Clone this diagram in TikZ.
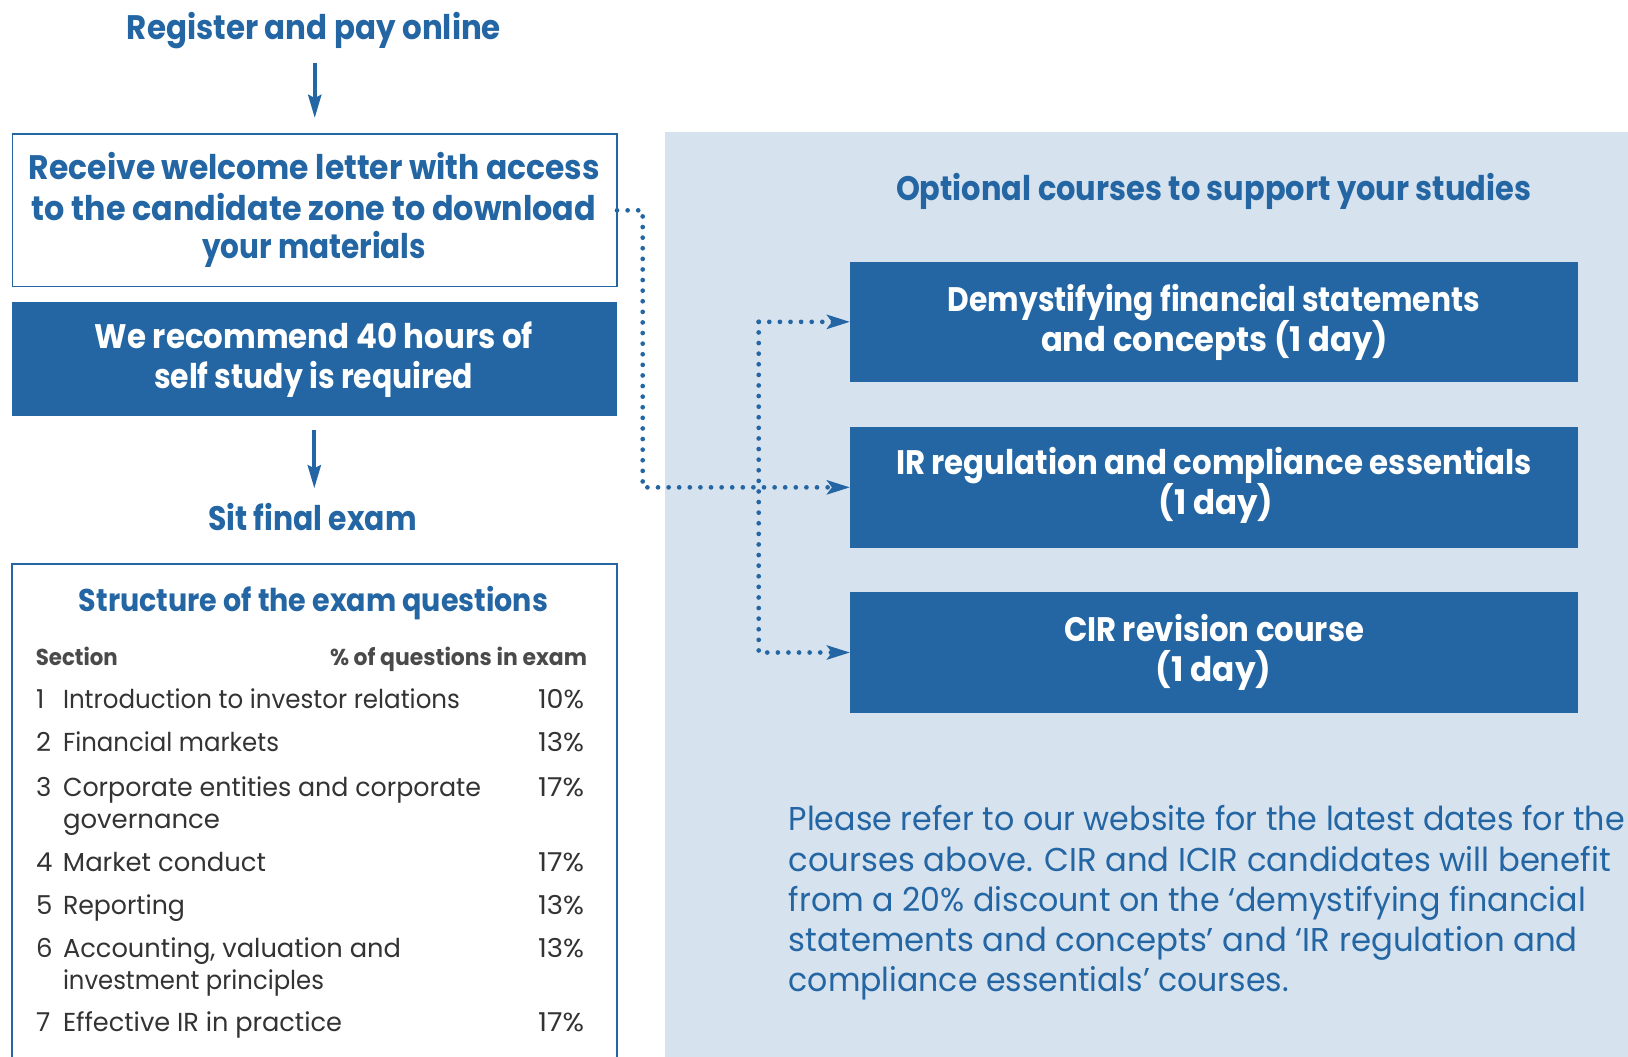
\documentclass[tikz,border=0pt]{standalone}
\usepackage{fontspec}
\setmainfont{Poppins}
\usepackage{graphicx}
\usetikzlibrary{arrows.meta}
\definecolor{cirblue}{HTML}{2366A3}
\definecolor{panelblue}{HTML}{D6E2EE}
\definecolor{rowgrey}{HTML}{333333}
\definecolor{headgrey}{HTML}{4A4A4A}
\newcommand\fl[2]{\resizebox{#1pt}{\height}{#2}}
\tikzset{
  txt/.style={inner sep=0pt, outer sep=0pt},
  ttl/.style={txt, anchor=base, text=cirblue, font=\bfseries\fontsize{34}{40}\selectfont},
  whitetxt/.style={txt, anchor=base, text=white, font=\bfseries\fontsize{34}{40}\selectfont},
  sttl/.style={txt, anchor=base, text=cirblue, font=\bfseries\fontsize{31.5}{36}\selectfont},
  head/.style={txt, text=headgrey, font=\bfseries\fontsize{23}{28}\selectfont},
  rowtxt/.style={txt, anchor=base west, text=rowgrey, font=\fontsize{26}{30}\selectfont},
  pct/.style={txt, anchor=base east, text=rowgrey, font=\fontsize{26}{30}\selectfont},
  para/.style={txt, anchor=base west, text=cirblue, font=\fontsize{33}{40}\selectfont},
  outlinebox/.style={draw=cirblue, line width=1.5pt, fill=white, inner sep=0pt, outer sep=0pt, anchor=north west},
  fillbox/.style={fill=cirblue, draw=none, inner sep=0pt, outer sep=0pt, anchor=north west},
  panelbox/.style={fill=panelblue, draw=none, inner sep=0pt, outer sep=0pt, anchor=north west},
  downarrow/.style={draw=cirblue, line width=4pt, -{Stealth[length=23pt,width=13pt,inset=3pt]}},
  dotline/.style={draw=cirblue, line width=4.7pt, line cap=round, dash pattern=on 0pt off 10.6pt},
  dotarrow/.style={dotline, -{Stealth[length=23pt,width=14pt,inset=5pt]}},
}
\begin{document}
\begin{tikzpicture}[x=1pt,y=-1pt]
\clip (0,0) rectangle (1628,1057);
\fill[white] (0,0) rectangle (1628,1057);

% right panel
\node[panelbox, minimum width=963.5pt, minimum height=930pt] (panel) at (664.5,132) {};

% left column
\node[ttl] (reg) at (314,39) {\fl{374}{Register and pay online}};

\node[outlinebox, minimum width=604.5pt, minimum height=152.7pt] (b1) at (12.5,134) {};
\node[ttl] (b1l1) at (314.5,179) {\fl{571}{Receive welcome letter with access}};
\node[ttl] (b1l2) at (314,220) {\fl{564}{to the candidate zone to download}};
\node[ttl] (b1l3) at (314,258) {\fl{224}{your materials}};

\node[fillbox, minimum width=605.4pt, minimum height=113.7pt] (b2) at (11.6,302) {};
\node[whitetxt] (b2l1) at (313.8,348) {\fl{438}{We recommend 40 hours of}};
\node[whitetxt] (b2l2) at (313.5,388) {\fl{319}{self study is required}};

\node[ttl] (sit) at (312.5,530) {\fl{208.4}{Sit final exam}};

\draw[downarrow] ([yshift=71.3pt]b1.north) -- ([yshift=16pt]b1.north);
\draw[downarrow] ([yshift=-14.3pt]b2.south) -- ([yshift=-72.6pt]b2.south);

% exam structure table
\node[outlinebox, minimum width=604.8pt, minimum height=600pt] (b3) at (12,564) {};
\node[sttl] (b3t) at (313.5,611) {\fl{469}{Structure of the exam questions}};
\node[head, anchor=base west] (hsec) at (35.8,665) {\fl{82}{Section}};
\node[head, anchor=base east] (hpct) at (587,665) {\fl{257}{\% of questions in exam}};

\node[rowtxt] (n1) at (36,708) {1};
\node[rowtxt] (r1) at (63,708) {\fl{397}{Introduction to investor relations}};
\node[pct] (p1) at (584,708) {\fl{46}{10\%}};

\node[rowtxt] (n2) at (36,751.7) {2};
\node[rowtxt] (r2) at (63,751.7) {\fl{216}{Financial markets}};
\node[pct] (p2) at (584,751.7) {\fl{46}{13\%}};

\node[rowtxt] (n3) at (36,796) {3};
\node[rowtxt] (r3) at (63,796) {\fl{418}{Corporate entities and corporate}};
\node[rowtxt] (r3b) at (63,828) {\fl{157}{governance}};
\node[pct] (p3) at (584,796) {\fl{46}{17\%}};

\node[rowtxt] (n4) at (36,871) {4};
\node[rowtxt] (r4) at (63,871) {\fl{203}{Market conduct}};
\node[pct] (p4) at (584,871) {\fl{46}{17\%}};

\node[rowtxt] (n5) at (36,914) {5};
\node[rowtxt] (r5) at (63,914) {\fl{122}{Reporting}};
\node[pct] (p5) at (584,914) {\fl{46}{13\%}};

\node[rowtxt] (n6) at (36,957) {6};
\node[rowtxt] (r6) at (63,957) {\fl{338}{Accounting, valuation and}};
\node[rowtxt] (r6b) at (63,989) {\fl{261}{investment principles}};
\node[pct] (p6) at (584,957) {\fl{46}{13\%}};

\node[rowtxt] (n7) at (36,1031) {7};
\node[rowtxt] (r7) at (63,1031) {\fl{279}{Effective IR in practice}};
\node[pct] (p7) at (584,1031) {\fl{46}{17\%}};

% optional courses
\node[ttl] (opt) at (1213.5,200.7) {\fl{635}{Optional courses to support your studies}};

\node[fillbox, minimum width=728pt, minimum height=120.3pt] (cA) at (850,261.7) {};
\node[whitetxt] (cAl1) at (1214,311) {\fl{532}{Demystifying financial statements}};
\node[whitetxt] (cAl2) at (1214.5,351.7) {\fl{347}{and concepts (1 day)}};

\node[fillbox, minimum width=728pt, minimum height=120.7pt] (cB) at (850,427) {};
\node[whitetxt] (cBl1) at (1214,474) {\fl{636}{IR regulation and compliance essentials}};
\node[whitetxt] (cBl2) at (1216,514) {\fl{114.6}{(1 day)}};

\node[fillbox, minimum width=728pt, minimum height=121pt] (cC) at (850,592) {};
\node[whitetxt] (cCl1) at (1214,641.7) {\fl{300}{CIR revision course}};
\node[whitetxt] (cCl2) at (1213.5,681.7) {\fl{115.6}{(1 day)}};

% dotted connectors
\coordinate (v1) at (642.7,0);
\coordinate (v2) at (758.7,0);
\draw[dotarrow] (b1.east) -- (b1.east -| v1) |- (cB.west);
\draw[dotarrow] (cA.west -| v2) -- (cA.west);
\draw[dotarrow] (cA.west -| v2) |- (cC.west);

% note paragraph
\node[para] (q1) at (788.8,830.7) {\fl{836}{Please refer to our website for the latest dates for the}};
\node[para] (q2) at (788.8,871) {\fl{822}{courses above. CIR and ICIR candidates will benefit}};
\node[para] (q3) at (788.8,911.7) {\fl{797}{from a 20\% discount on the ‘demystifying financial}};
\node[para] (q4) at (788.8,951.7) {\fl{789}{statements and concepts’ and ‘IR regulation and}};
\node[para] (q5) at (788.8,991.7) {\fl{500}{compliance essentials’ courses.}};
\end{tikzpicture}
\end{document}
